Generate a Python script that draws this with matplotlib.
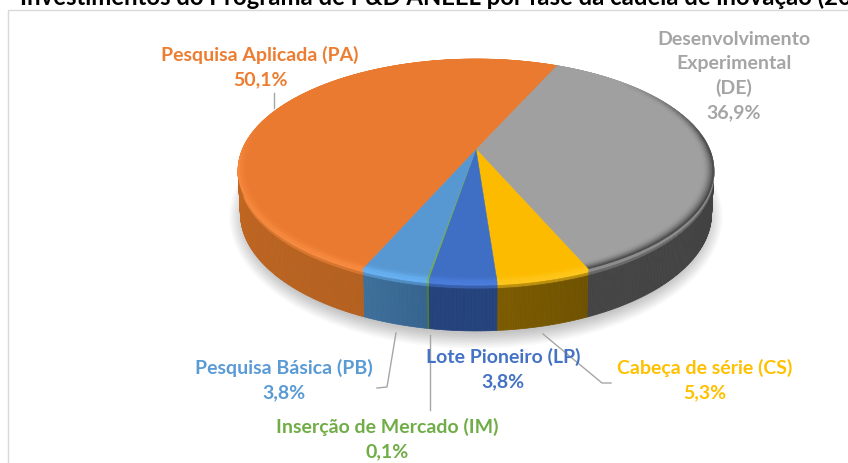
import numpy as np
import matplotlib
matplotlib.use("Agg")
import matplotlib.pyplot as plt
from matplotlib.collections import PolyCollection
from matplotlib.patches import Ellipse, Rectangle
from matplotlib.colors import to_rgb

plt.rcParams['font.family'] = ['Lato', 'DejaVu Sans']

# dados, em sentido horario a partir da fatia cinza
fases = ["DE", "CS", "LP", "IM", "PB", "PA"]
valores = [36.9, 5.3, 3.8, 0.1, 3.8, 50.1]
rotulos = ["Desenvolvimento\nExperimental\n(DE)\n36,9%", "Cabeça de série (CS)\n5,3%", "Lote Pioneiro (LP)\n3,8%",
           "Inserção de Mercado (IM)\n0,1%", "Pesquisa Básica (PB)\n3,8%", "Pesquisa Aplicada (PA)\n50,1%"]
titulo = "Investimentos do Programa de P&D ANEEL por fase da cadeia de inovação (20"

cor_topo = ["#a0a0a0", "#fdbb00", "#3f6fc4", "#6fae46", "#5898d2", "#e97a30"]
cor_borda = ["#8c8c8c", "#ffc61a", "#4a7cdc", "#7cc04e", "#66b0f2", "#f78a3e"]
cor_lado_a = ["#3f3f3f", "#6f5200", "#24427c", "#4f7d32", "#34648f", "#b4601f"]
cor_lado_b = ["#444444", "#7d5c00", "#24427c", "#4f7d32", "#3f709b", "#dc7429"]
cor_texto = ["#a5a5a5", "#ffc000", "#4472c4", "#70ad47", "#5b9bd5", "#ed7d31"]
pos_texto = [(734, 76), (705, 380), (503, 369), (387, 439), (284, 380), (260, 67)]

inicio = 23.9
cx, cy = 476, 149
k, A, B = 0.193, 107.4, 233.5


def topo(r, ang):
    # projecao em perspectiva do disco, ang em graus a partir do topo
    t = np.radians(ang)
    u, v = r*np.sin(t), r*np.cos(t)
    d = 1 + k*v
    return cx + B*u/d, cy - A*v/d


def fundo(r, ang):
    x, y = topo(r, ang)
    return cx + (x - cx)*0.99, 215 + (y - 172)*119/113


def mistura(c1, c2, f):
    c1, c2 = np.array(to_rgb(c1)), np.array(to_rgb(c2))
    return tuple(c1 + (c2 - c1)*f)


fig = plt.figure(figsize=(8.48, 4.63), dpi=100)
ax = fig.add_axes([0, 0, 1, 1])
ax.set_xlim(0, 848)
ax.set_ylim(463, 0)
ax.axis("off")

# moldura
ax.add_patch(Rectangle((8, 10), 900, 600, fill=False, edgecolor="#d9d9d9", linewidth=1))

# sombra
for i in range(10):
    ax.add_patch(Ellipse((476, 217), 2*(232 + i*1.6), 2*(117 + i*1.6), facecolor="black", alpha=0.025, edgecolor="none"))

bordas = inicio + np.cumsum([0] + valores)*3.6

# lateral
polys, cores = [], []
for i in range(len(valores)):
    a0, a1 = bordas[i], bordas[i+1]
    angs = np.linspace(a0, a1, max(3, int(a1 - a0)*2))
    for j in range(len(angs) - 1):
        f = j/(len(angs) - 1)
        lado = mistura(cor_lado_a[i], cor_lado_b[i], f)
        for t0, t1, cor in [(0, 0.08, cor_borda[i]), (0.08, 0.14, mistura(cor_borda[i], lado, 0.5)), (0.14, 1, lado)]:
            x0, y0 = topo(1, angs[j])
            x1, y1 = topo(1, angs[j+1])
            x2, y2 = fundo(1, angs[j+1])
            x3, y3 = fundo(1, angs[j])
            polys.append([(x0 + (x3 - x0)*t0, y0 + (y3 - y0)*t0), (x1 + (x2 - x1)*t0, y1 + (y2 - y1)*t0),
                          (x1 + (x2 - x1)*t1, y1 + (y2 - y1)*t1), (x0 + (x3 - x0)*t1, y0 + (y3 - y0)*t1)])
            cores.append(cor)
ax.add_collection(PolyCollection(polys, facecolors=cores, edgecolors=cores, linewidths=0.5))

# topo das fatias
for i in range(len(valores)):
    angs = np.linspace(bordas[i], bordas[i+1], max(3, int(bordas[i+1] - bordas[i])*2))
    x, y = topo(1, angs)
    ax.fill(np.r_[cx, x], np.r_[cy, y], color=cor_topo[i], linewidth=0.3)

# aro claro a esquerda e na frente, escuro na cinza
polys, cores = [], []
aneis = np.linspace(0.95, 1, 9)
for i in range(len(valores)):
    angs = np.linspace(bordas[i], bordas[i+1], max(3, int(bordas[i+1] - bordas[i])*2))
    for j in range(len(angs) - 1):
        a = angs[j]
        if i == 0:
            peso = np.clip((a - 45)/40, 0, 1)
            alvo = "#4a4a4a"
        else:
            peso = np.clip((0.25 - np.cos(np.radians(a)))/0.4, 0, 1)
            alvo = cor_borda[i]
        for n in range(len(aneis) - 1):
            r0, r1 = aneis[n], aneis[n+1]
            f = (n/(len(aneis) - 2))**2
            x0, y0 = topo(r0, a)
            x1, y1 = topo(r0, angs[j+1])
            x2, y2 = topo(r1, angs[j+1])
            x3, y3 = topo(r1, a)
            polys.append([(x0, y0), (x1, y1), (x2, y2), (x3, y3)])
            cores.append(mistura(cor_topo[i], alvo, f*peso))
ax.add_collection(PolyCollection(polys, facecolors=cores, edgecolors=cores, linewidths=0.3))

# linhas de chamada
linhas = [([274, 274], [93, 108]),
          ([396, 387, 377], [333, 387, 388]),
          ([430, 430], [335, 410]),
          ([543, 602, 611], [334, 383, 383])]
for lx, ly in linhas:
    ax.plot(lx, ly, color="#a6a6a6", linewidth=1)

# rotulos
for i in range(len(rotulos)):
    ax.text(pos_texto[i][0], pos_texto[i][1], rotulos[i], color=cor_texto[i], fontsize=14, fontweight="bold",
            ha="center", va="center", linespacing=1.48)

# titulo cortado no topo
ax.text(20, 5, titulo, color="black", fontsize=17.2, fontweight="bold", ha="left", va="baseline", clip_on=True)
ax.text(0, 5, "–", color="black", fontsize=17.2, fontweight="bold", ha="left", va="baseline", clip_on=True)

fig.savefig("out.png", dpi=100)
